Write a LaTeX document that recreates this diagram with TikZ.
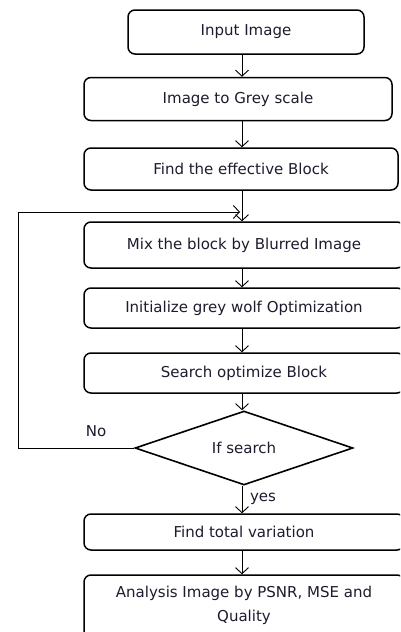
\documentclass[tikz,border=0pt]{standalone}
\usepackage{fontspec}
\setmainfont{DejaVu Sans}
\usetikzlibrary{arrows.meta,shapes.geometric}
\definecolor{txt}{HTML}{1C1C2E}
\begin{document}
\begin{tikzpicture}[x=1pt,y=-1pt,
  box/.style={draw,line width=1.5pt,rounded corners=7pt,inner sep=0pt,align=center,text=txt,
    font=\fontsize{15}{18}\selectfont},
  dec/.style={draw,diamond,line width=1.6pt,inner sep=0pt,aspect=2.95,text=txt,
    font=\fontsize{15}{18}\selectfont},
  conn/.style={line width=0.9pt,-{Straight Barb[length=6pt,width=13pt,line width=0.9pt]}},
  lbl/.style={text=txt,font=\fontsize{15}{18}\selectfont,inner sep=0pt}]
\clip (0,0) rectangle (400,632);
\fill[white] (0,0) rectangle (400,632);
\coordinate (spine) at (242,0);
\node[box,minimum width=236pt,minimum height=44pt] (b1) at (246,32) {Input Image};
\node[box,minimum width=308pt,minimum height=43pt] (b2) at (238,99) {Image to Grey scale};
\node[box,minimum width=314pt,minimum height=42pt] (b3) at (241,169) {Find the effective Block};
\node[box,minimum width=320pt,minimum height=46pt] (b4) at (244,245) {Mix the block by Blurred Image};
\node[box,minimum width=320pt,minimum height=40pt] (b5) at (244,308) {Initialize grey wolf Optimization};
\node[box,minimum width=320pt,minimum height=40pt] (b6) at (244,373) {Search optimize Block};
\node[dec,minimum width=218pt,minimum height=74pt] (d) at (244,448) {If search};
\node[box,minimum width=320pt,minimum height=36pt] (b7) at (244,532) {Find total variation};
\node[box,minimum width=320pt,minimum height=66pt] (b8) at (244,608) {};
\node[lbl] (t8a) at (244,593) {Analysis Image by PSNR, MSE and};
\node[lbl] (t8b) at (244,617) {Quality};
\node[lbl] (no) at (96,431) {No};
\node[lbl] (yes) at (263,499) {yes};
\coordinate (lpbot) at (18,448);
\coordinate (lptop) at (18,212);
\coordinate (lpend) at (240,212);
\draw[conn] (b1.south -| spine) -- (b2.north -| spine);
\draw[conn] (b2.south -| spine) -- (b3.north -| spine);
\draw[conn] (b3.south -| spine) -- (b4.north -| spine);
\draw[conn] (b4.south -| spine) -- (b5.north -| spine);
\draw[conn] (b5.south -| spine) -- (b6.north -| spine);
\draw[conn] (b6.south -| spine) -- (d.north -| spine);
\draw[conn] (d.south -| spine) -- (b7.north -| spine);
\draw[conn] (b7.south -| spine) -- (b8.north -| spine);
\draw[conn] (d.west) -- (lpbot) -- (lptop) -- (lpend);
\end{tikzpicture}
\end{document}
